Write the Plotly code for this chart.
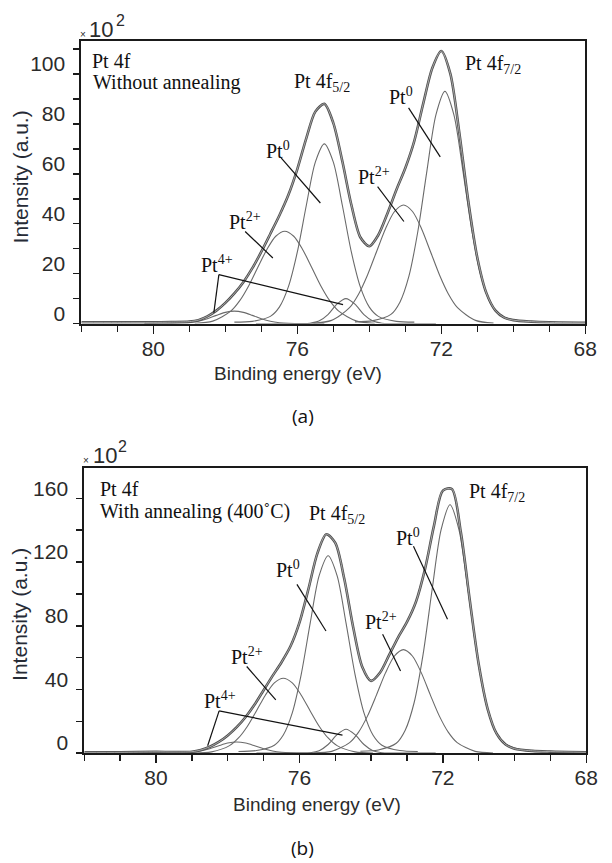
import plotly.graph_objects as go

# ---------------- shared binding-energy grid for the envelopes ----------------
be_grid = [82, 81, 80, 79.5, 79, 78.75, 78.5, 78.25, 78, 77.75, 77.5, 77.25, 77, 76.75,
           76.5, 76.25, 76, 75.75, 75.5, 75.25, 75, 74.75, 74.5, 74.25, 74, 73.75, 73.5,
           73.25, 73, 72.75, 72.5, 72.25, 72, 71.75, 71.5, 71.25, 71, 70.75, 70.5, 70.25,
           70, 69.5, 69, 68]

# ---------------- panel (a): without annealing (x10^2 counts) ----------------
env_a = [0.5, 0.5, 0.5, 0.6, 0.8, 1.4, 2.9, 5.2, 8.3, 12.1, 16.6, 22.2, 28.8, 36.0, 43.3,
         51.5, 61.9, 74.3, 84.9, 88.0, 80.3, 65.0, 47.6, 34.6, 31.0, 35.5, 44.0, 53.5, 62.3,
         73.2, 88.3, 102.4, 109.2, 100.1, 76.5, 49.0, 26.4, 12.3, 5.3, 2.4, 1.4, 0.8, 0.5, 0.3]

a_pt0_72_x = [69.4, 69.9, 70.4, 70.65, 70.9, 71.15, 71.4, 71.65, 71.9, 72.15, 72.4, 72.65, 72.9, 73.15, 73.4, 73.9, 74.4]
a_pt0_72_y = [0.7, 1.2, 3.7, 8.6, 19.0, 37.1, 61.2, 83.6, 93.0, 83.6, 61.2, 37.1, 19.0, 8.6, 3.7, 1.2, 0.7]
a_pt0_52_x = [72.75, 73.25, 73.75, 74.0, 74.25, 74.5, 74.75, 75.0, 75.25, 75.5, 75.75, 76.0, 76.25, 76.5, 76.75, 77.25, 77.75]
a_pt0_52_y = [0.6, 0.9, 2.9, 6.6, 14.7, 28.7, 47.4, 64.7, 72.0, 64.7, 47.4, 28.7, 14.7, 6.6, 2.9, 0.9, 0.6]
a_pt2_72_x = [70.55, 71.05, 71.55, 71.8, 72.05, 72.3, 72.55, 72.8, 73.05, 73.3, 73.55, 73.8, 74.05, 74.3, 74.55, 75.05, 75.55]
a_pt2_72_y = [0.2, 1.3, 6.4, 11.8, 19.5, 28.8, 38.0, 44.9, 47.5, 44.9, 38.0, 28.8, 19.5, 11.8, 6.4, 1.3, 0.2]
a_pt2_52_x = [73.85, 74.35, 74.85, 75.1, 75.35, 75.6, 75.85, 76.1, 76.35, 76.6, 76.85, 77.1, 77.35, 77.6, 77.85, 78.35, 78.85]
a_pt2_52_y = [0.15, 1.0, 5.0, 9.2, 15.2, 22.5, 29.6, 35.0, 37.0, 35.0, 29.6, 22.5, 15.2, 9.2, 5.0, 1.0, 0.15]
a_pt4_72_x = [72.15, 72.65, 73.15, 73.4, 73.65, 73.9, 74.15, 74.4, 74.65, 74.9, 75.15, 75.4, 75.65, 75.9, 76.15, 76.65, 77.15]
a_pt4_72_y = [0, 0, 0, 0.02, 0.17, 1.0, 3.6, 7.8, 10.0, 7.8, 3.6, 1.0, 0.17, 0.02, 0, 0, 0]
a_pt4_52_x = [75.25, 75.75, 76.25, 76.5, 76.75, 77.0, 77.25, 77.5, 77.75, 78.0, 78.25, 78.5, 78.75, 79.0, 79.25, 79.75, 80.25]
a_pt4_52_y = [0, 0.01, 0.12, 0.38, 0.96, 1.98, 3.31, 4.51, 5.0, 4.51, 3.31, 1.98, 0.96, 0.38, 0.12, 0.01, 0]

# ---------------- panel (b): with annealing 400 C (x10^2 counts) ----------------
env_b = [0.5, 0.5, 0.8, 0.7, 0.9, 2.0, 4.0, 7.0, 11.1, 16.3, 22.7, 30.5, 39.5, 48.5, 57.1,
         67.1, 82.0, 103.0, 125.5, 137.5, 132.0, 109.5, 78.9, 54.3, 45.4, 50.6, 61.5, 72.6,
         82.4, 95.1, 115.4, 142.6, 164.9, 165.9, 139.0, 96.2, 55.8, 27.7, 12.2, 5.4, 2.8, 1.4, 0.95, 0.5]

b_pt0_72_x = [69.3, 69.8, 70.3, 70.55, 70.8, 71.05, 71.3, 71.55, 71.8, 72.05, 72.3, 72.55, 72.8, 73.05, 73.3, 73.8, 74.3]
b_pt0_72_y = [1.2, 2.0, 6.2, 14.4, 31.8, 62.2, 102.6, 140.2, 156.0, 140.2, 102.6, 62.2, 31.8, 14.4, 6.2, 2.0, 1.2]
b_pt0_52_x = [72.7, 73.2, 73.7, 73.95, 74.2, 74.45, 74.7, 74.95, 75.2, 75.45, 75.7, 75.95, 76.2, 76.45, 76.7, 77.2, 77.7]
b_pt0_52_y = [1.0, 1.6, 5.0, 11.4, 25.3, 49.5, 81.6, 111.5, 124.0, 111.5, 81.6, 49.5, 25.3, 11.4, 5.0, 1.6, 1.0]
b_pt2_72_x = [70.6, 71.1, 71.6, 71.85, 72.1, 72.35, 72.6, 72.85, 73.1, 73.35, 73.6, 73.85, 74.1, 74.35, 74.6, 75.1, 75.6]
b_pt2_72_y = [0.1, 1.1, 6.6, 13.2, 23.4, 36.6, 50.4, 61.0, 65.0, 61.0, 50.4, 36.6, 23.4, 13.2, 6.6, 1.1, 0.1]
b_pt2_52_x = [73.95, 74.45, 74.95, 75.2, 75.45, 75.7, 75.95, 76.2, 76.45, 76.7, 76.95, 77.2, 77.45, 77.7, 77.95, 78.45, 78.95]
b_pt2_52_y = [0.1, 0.8, 4.7, 9.5, 16.9, 26.5, 36.4, 44.1, 47.0, 44.1, 36.4, 26.5, 16.9, 9.5, 4.7, 0.8, 0.1]
b_pt4_72_x = [72.2, 72.7, 73.2, 73.45, 73.7, 73.95, 74.2, 74.45, 74.7, 74.95, 75.2, 75.45, 75.7, 75.95, 76.2, 76.7, 77.2]
b_pt4_72_y = [0, 0, 0, 0.03, 0.26, 1.5, 5.4, 11.6, 15.0, 11.6, 5.4, 1.5, 0.26, 0.03, 0, 0, 0]
b_pt4_52_x = [75.25, 75.75, 76.25, 76.5, 76.75, 77.0, 77.25, 77.5, 77.75, 78.0, 78.25, 78.5, 78.75, 79.0, 79.25, 79.75, 80.25]
b_pt4_52_y = [0, 0.01, 0.17, 0.53, 1.34, 2.77, 4.63, 6.31, 7.0, 6.31, 4.63, 2.77, 1.34, 0.53, 0.17, 0.01, 0]

# ---------------- labels (text, BE, intensity) ----------------
labels_a = [("Pt 4f", 81.75, 105.2), ("Without annealing", 81.72, 96.4),
            ("Pt 4f<sub>5/2</sub>", 76.15, 96.4), ("Pt 4f<sub>7/2</sub>", 71.41, 103.6),
            ("Pt<sup>0</sup>", 73.51, 91.0), ("Pt<sup>0</sup>", 76.94, 69.6),
            ("Pt<sup>2+</sup>", 77.95, 40.9), ("Pt<sup>2+</sup>", 74.36, 59.3),
            ("Pt<sup>4+</sup>", 78.73, 24.0)]
labels_b = [("Pt 4f", 81.63, 165.6), ("With annealing (400˚C)", 81.63, 151.8),
            ("Pt 4f<sub>5/2</sub>", 75.8, 149.9), ("Pt 4f<sub>7/2</sub>", 71.33, 163.7),
            ("Pt<sup>0</sup>", 73.36, 135.5), ("Pt<sup>0</sup>", 76.7, 115.4),
            ("Pt<sup>2+</sup>", 74.22, 83.0), ("Pt<sup>2+</sup>", 77.97, 60.9),
            ("Pt<sup>4+</sup>", 78.73, 33.2)]

# leader lines (BE0, I0, BE1, I1)
leaders_a = [(72.91, 86.4, 72.03, 66.8), (76.45, 66.4, 75.36, 48.3),
             (77.45, 36.9, 76.68, 26.3), (73.77, 54.9, 73.04, 40.9),
             (78.18, 19.6, 74.73, 7.6), (78.18, 19.6, 78.32, 4.3)]
leaders_b = [(72.82, 130.0, 71.87, 84.1), (76.07, 106.0, 75.26, 76.7),
             (73.68, 74.7, 73.18, 51.6), (77.47, 54.4, 76.66, 33.4),
             (78.24, 26.5, 78.56, 4.6), (78.24, 26.5, 74.8, 11.3)]

W, H = 612, 863
COMP = "#6a6a6a"
ENV = "#505050"
SERIF = "Liberation Serif, Times New Roman, serif"
SANS = "Liberation Sans, Arial, sans-serif"

fig = go.Figure()

panels = [
    ("x", "y", env_a, [(a_pt0_72_x, a_pt0_72_y), (a_pt0_52_x, a_pt0_52_y), (a_pt2_72_x, a_pt2_72_y),
                       (a_pt2_52_x, a_pt2_52_y), (a_pt4_72_x, a_pt4_72_y), (a_pt4_52_x, a_pt4_52_y)]),
    ("x2", "y2", env_b, [(b_pt0_72_x, b_pt0_72_y), (b_pt0_52_x, b_pt0_52_y), (b_pt2_72_x, b_pt2_72_y),
                         (b_pt2_52_x, b_pt2_52_y), (b_pt4_72_x, b_pt4_72_y), (b_pt4_52_x, b_pt4_52_y)]),
]
for xa, ya, env, comps in panels:
    for cx, cy in comps:
        fig.add_trace(go.Scatter(x=cx, y=cy, mode="lines", xaxis=xa, yaxis=ya,
                                 line=dict(color=COMP, width=1.1, shape="spline", smoothing=0.8),
                                 hoverinfo="skip"))
    fig.add_trace(go.Scatter(x=be_grid, y=env, mode="lines", xaxis=xa, yaxis=ya,
                             line=dict(color=ENV, width=2.6, shape="spline", smoothing=0.8),
                             hoverinfo="skip"))
    fig.add_trace(go.Scatter(x=be_grid, y=env, mode="lines", xaxis=xa, yaxis=ya,
                             line=dict(color="#cfcfcf", width=0.7, shape="spline", smoothing=0.8),
                             hoverinfo="skip"))

annotations = []
shapes = []
for xa, ya, labels, leaders in [("x", "y", labels_a, leaders_a), ("x2", "y2", labels_b, leaders_b)]:
    for txt, bx, iy in labels:
        annotations.append(dict(text=txt, x=bx, y=iy, xref=xa, yref=ya, showarrow=False,
                                xanchor="left", yanchor="middle",
                                font=dict(family=SERIF, size=20, color="#111111")))
    for x0, y0, x1, y1 in leaders:
        shapes.append(dict(type="line", xref=xa, yref=ya, x0=x0, y0=y0, x1=x1, y1=y1,
                           line=dict(color="#111111", width=1.2)))


def paper(px, py):
    return px / W, 1 - py / H


def ptext(txt, px, py, size, family=SANS, color="#2b2b2b", xanchor="center", angle=0):
    x, y = paper(px, py)
    annotations.append(dict(text=txt, x=x, y=y, xref="paper", yref="paper", showarrow=False,
                            xanchor=xanchor, yanchor="middle", textangle=angle,
                            font=dict(family=family, size=size, color=color)))


# multiplier labels
ptext("×", 85, 35, 10, xanchor="center")
ptext("10", 89, 30, 22, xanchor="left")
ptext("2", 116, 21, 16, xanchor="left")
ptext("×", 88, 461, 10, xanchor="center")
ptext("10", 93, 456, 22, xanchor="left")
ptext("2", 118, 447, 16, xanchor="left")
# axis titles
ptext("Binding energy (eV)", 304, 374, 19)
ptext("Binding energy (eV)", 323, 805, 19)
ptext("Intensity (a.u.)", 21, 177, 21, color="#262b36", angle=-90)
ptext("Intensity (a.u.)", 20, 615, 21, color="#262b36", angle=-90)
# panel captions
ptext("(a)", 309, 416, 19, family="Open Sans, Noto Sans, sans-serif", color="#111111")
ptext("(b)", 309, 849, 19, family="Open Sans, Noto Sans, sans-serif", color="#111111")

tickfont = dict(family=SANS, size=21, color="#2b2b2b")


def xaxis(domain, anchor):
    return dict(domain=domain, anchor=anchor, range=[82, 68], showgrid=False, zeroline=False,
                showline=True, linecolor="#1a1a1a", linewidth=2, mirror=True,
                ticks="outside", ticklen=8, tickwidth=1.5, tickcolor="#1a1a1a",
                tickmode="linear", tick0=80, dtick=4, tickfont=tickfont,
                ticklabelstandoff=-3,
                minor=dict(tickmode="linear", tick0=80, dtick=1, ticks="outside", ticklen=6,
                           tickwidth=1.5, tickcolor="#1a1a1a"))


def yaxis(domain, anchor, top, major, minor):
    return dict(domain=domain, anchor=anchor, range=[0, top], showgrid=False, zeroline=False,
                showline=True, linecolor="#1a1a1a", linewidth=2, mirror=True,
                ticks="outside", ticklen=6, tickwidth=1.5, tickcolor="#1a1a1a",
                tickmode="linear", tick0=0, dtick=major, tickfont=tickfont,
                ticklabelshift=-10, ticklabelstandoff=4,
                minor=dict(tickmode="linear", tick0=0, dtick=minor, ticks="outside", ticklen=6,
                           tickwidth=1.5, tickcolor="#1a1a1a"))


fig.update_layout(
    width=W, height=H, margin=dict(l=0, r=0, t=0, b=0),
    paper_bgcolor="white", plot_bgcolor="white", showlegend=False,
    xaxis=xaxis([83 / W, 597 / W], "y"),
    yaxis=yaxis([1 - 324 / H, 1 - 41 / H], "x", 113.2, 20, 10),
    xaxis2=xaxis([86 / W, 598 / W], "y2"),
    yaxis2=yaxis([1 - 754 / H, 1 - 469 / H], "x2", 178.8, 40, 20),
    annotations=annotations, shapes=shapes,
)

fig.write_html(
    "out.html",
    config={"displayModeBar": False, "staticPlot": True},
    post_script=("document.body.style.margin='0px';"
                 "document.body.style.overflow='hidden';"
                 "document.documentElement.style.overflow='hidden';"),
)
